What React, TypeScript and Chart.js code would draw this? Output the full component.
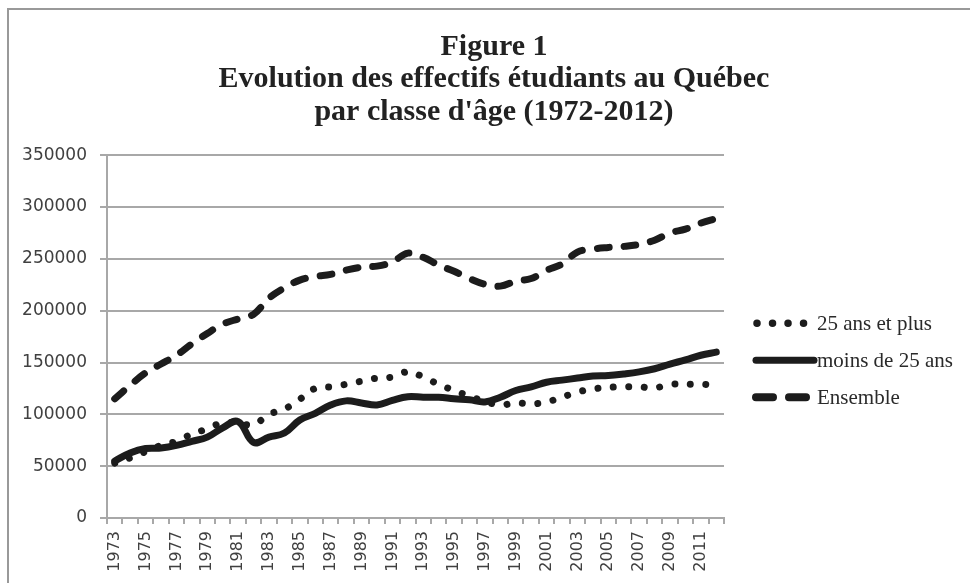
import React, { useEffect, useRef } from 'react';
import { Chart, registerables } from 'chart.js';

Chart.register(...registerables);

const years = [
  '1973', '1974', '1975', '1976', '1977', '1978', '1979', '1980', '1981', '1982',
  '1983', '1984', '1985', '1986', '1987', '1988', '1989', '1990', '1991', '1992',
  '1993', '1994', '1995', '1996', '1997', '1998', '1999', '2000', '2001', '2002',
  '2003', '2004', '2005', '2006', '2007', '2008', '2009', '2010', '2011', '2012',
];

const plus25 = [
  53000, 58000, 64000, 70000, 74000, 81000, 86000, 92000, 91500, 90000,
  100000, 105000, 114500, 125000, 126500, 129000, 132000, 135000, 136000, 141000,
  136000, 129000, 123000, 117500, 112500, 109000, 111000, 110000, 112000, 116500,
  121500, 124500, 126000, 126500, 126500, 125500, 129000, 129000, 129000, 128500,
];

const moins25 = [
  55000, 62700, 67000, 67500, 70000, 74000, 78000, 87000, 93000, 73000,
  78000, 82000, 94500, 101000, 109000, 113000, 111000, 109000, 113500, 117000,
  116500, 116500, 115000, 114000, 112000, 116500, 123000, 126500, 131000, 133000,
  135000, 137000, 137500, 139000, 141000, 144000, 148500, 152500, 157000, 160000,
];

const ensemble = [
  115000, 128000, 140000, 148500, 157000, 168000, 178000, 187000, 192000, 196500,
  212000, 222000, 229500, 233000, 235000, 239000, 242000, 243000, 247000, 255500,
  251500, 244000, 238000, 231000, 225500, 223700, 228500, 231000, 239000, 245000,
  256500, 259500, 261000, 262000, 264000, 268000, 275000, 278700, 284500, 289000,
];

const seriesNames = ['25 ans et plus', 'moins de 25 ans', 'Ensemble'];

const titleLines = [
  'Figure 1',
  'Evolution des effectifs étudiants au Québec',
  "par classe d'âge (1972-2012)",
];

const yMin = 0;
const yMax = 350000;
const yStep = 50000;

const LINE = '#1c1c1c';
const GRID = '#a8a8a8';

const legendStyles = [
  { dash: [0.01, 15.5], width: 7.5, start: 4, end: 54 },
  { dash: [], width: 7, start: 3, end: 61 },
  { dash: [17, 16], width: 8, start: 3, end: 60 },
];

const sideLegend = {
  id: 'sideLegend',
  afterDraw(chart: any) {
    const { ctx, chartArea } = chart;
    const x0 = chartArea.right + 29;
    const rows = [168, 205, 242];
    chart.data.datasets.forEach((ds: any, i: number) => {
      const st = legendStyles[i];
      const y = chartArea.top + rows[i];
      ctx.save();
      ctx.strokeStyle = ds.borderColor;
      ctx.lineWidth = st.width;
      ctx.lineCap = 'round';
      ctx.setLineDash(st.dash);
      ctx.beginPath();
      ctx.moveTo(x0 + st.start, y);
      ctx.lineTo(x0 + st.end, y);
      ctx.stroke();
      ctx.setLineDash([]);
      ctx.fillStyle = '#2a2a2a';
      ctx.font = '21px "Liberation Serif"';
      ctx.textBaseline = 'middle';
      ctx.textAlign = 'left';
      ctx.fillText(ds.label, x0 + 64, y + 1);
      ctx.restore();
    });
  },
};

export default function App() {
  const ref = useRef<HTMLCanvasElement | null>(null);

  useEffect(() => {
    if (!ref.current) return;
    const chart = new Chart(ref.current, {
      type: 'line',
      data: {
        labels: years,
        datasets: [
          {
            label: seriesNames[0],
            data: plus25,
            borderColor: LINE,
            backgroundColor: LINE,
            borderWidth: 7,
            borderDash: [0.01, 15.5],
            borderCapStyle: 'round',
            pointRadius: 0,
            tension: 0.4,
            fill: false,
          },
          {
            label: seriesNames[1],
            data: moins25,
            borderColor: LINE,
            backgroundColor: LINE,
            borderWidth: 7,
            borderCapStyle: 'round',
            borderJoinStyle: 'round',
            pointRadius: 0,
            tension: 0.4,
            fill: false,
          },
          {
            label: seriesNames[2],
            data: ensemble,
            borderColor: LINE,
            backgroundColor: LINE,
            borderWidth: 7,
            borderDash: [12, 15],
            borderCapStyle: 'round',
            pointRadius: 0,
            tension: 0.4,
            fill: false,
          },
        ],
      },
      options: {
        responsive: false,
        animation: false,
        layout: { padding: { left: 18, top: 0, right: 0, bottom: 0 } },
        plugins: {
          legend: { display: false },
          tooltip: { enabled: false },
          title: {
            display: true,
            text: titleLines,
            color: '#222',
            font: { family: 'Liberation Serif', size: 30, weight: 'bold', lineHeight: 1.08 },
            padding: { top: 31, bottom: 27 },
          },
        },
        scales: {
          x: {
            offset: true,
            grid: {
              offset: true,
              drawOnChartArea: false,
              color: GRID,
              lineWidth: 2,
              tickLength: 6,
            },
            border: { color: GRID, width: 2 },
            ticks: {
              autoSkip: false,
              minRotation: 90,
              maxRotation: 90,
              padding: 7,
              color: '#404040',
              font: { family: 'DejaVu Sans', size: 16 },
              callback: (_v: any, i: number) => (i % 2 === 0 ? years[i] : ''),
            },
            afterFit: (s: any) => {
              s.height = 65;
            },
          },
          y: {
            min: yMin,
            max: yMax,
            grid: { color: GRID, lineWidth: 2, tickLength: 7 },
            border: { color: GRID, width: 2 },
            ticks: {
              stepSize: yStep,
              padding: 13,
              color: '#404040',
              font: { family: 'DejaVu Sans', size: 17 },
              callback: (v: any) => String(v),
            },
            afterFit: (s: any) => {
              s.width = 89;
            },
          },
          y2: {
            position: 'right',
            display: true,
            grid: { display: false },
            border: { display: false },
            ticks: { display: false },
            afterFit: (s: any) => {
              s.width = 246;
            },
          },
        },
      },
      plugins: [sideLegend],
    } as any);
    return () => chart.destroy();
  }, []);

  return (
    <div
      style={{
        position: 'fixed',
        left: 0,
        top: 0,
        width: 970,
        height: 583,
        overflow: 'hidden',
        background: '#fff',
      }}
    >
      <div
        style={{
          position: 'absolute',
          left: 7,
          top: 8,
          width: 963,
          height: 575,
          borderLeft: '2px solid #999',
          borderTop: '2px solid #999',
          boxSizing: 'border-box',
        }}
      />
      <canvas ref={ref} width={970} height={583} style={{ position: 'absolute', left: 0, top: 0 }} />
    </div>
  );
}
